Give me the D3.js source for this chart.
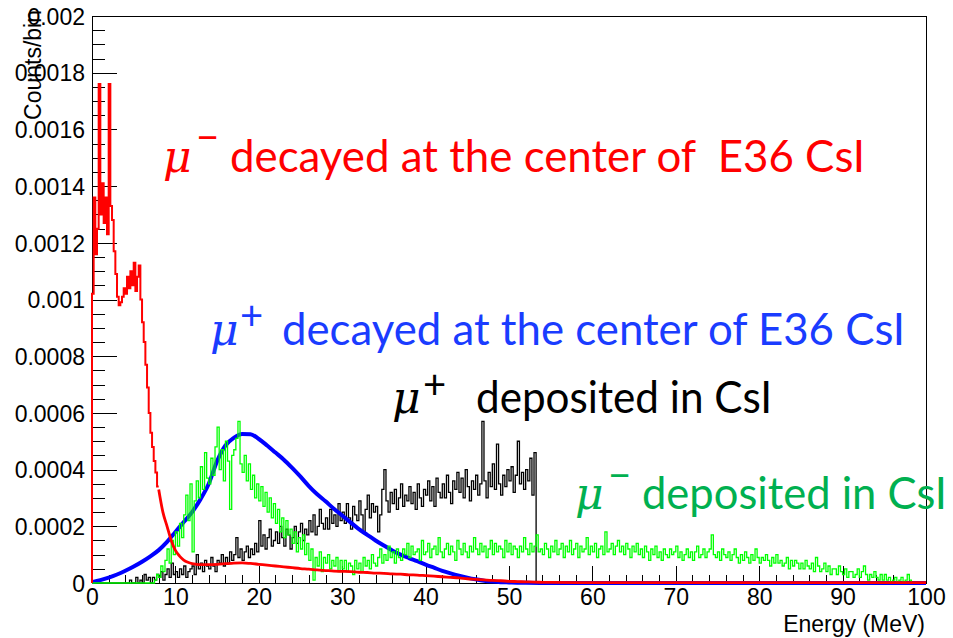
<!DOCTYPE html>
<html><head><meta charset="utf-8">
<script src="https://cdn.jsdelivr.net/npm/d3@7"></script>
<style>body{margin:0;background:#fff}svg{display:block}</style>
</head><body><svg id="c" width="953" height="638"></svg>
<script>
// ---- data (values in units of 1e-5 counts/bin) ----
const UNIT = 1e-5;
const xTicks = [0,10,20,30,40,50,60,70,80,90,100];
const xTickLabels = ["0","10","20","30","40","50","60","70","80","90","100"];
const yTicks = [0,0.0002,0.0004,0.0006,0.0008,0.001,0.0012,0.0014,0.0016,0.0018,0.002];
const yTickLabels = ["0","0.0002","0.0004","0.0006","0.0008","0.001","0.0012","0.0014","0.0016","0.0018","0.002"];

// mu- decayed at the center (red): fine bins 0-8 MeV, 0.2 MeV wide
const redLowStart = 0, redLowWidth = 0.2;
const redLow = [102,136,116,125,176,130,141,127,136,123,176,133,128,117,109,101,98,99,101,104,
                102,108,104,110,105,113,103,108,112,100,92,85,77,69,60,53,48,43,39,34];
// smooth tail of the red spectrum
const redTailE = [8,8.5,9,9.5,10,10.5,11,11.5,12,12.5,13,14,15,16,17,18,19,20,21,22,23,24,25,26,27,28,29,30,31,32,33,34,35,36,37,38,39,40,41,42,43,44,45,46,47,48,49,50,51,52,53,54,55,60,70,80,90,100];
const redTail  = [33,25,20,15,11.5,9.5,8.1,7.3,6.8,6.6,6.5,6.5,6.6,6.8,7.0,7.1,6.9,6.6,6.3,6.0,5.7,5.4,5.1,4.9,4.6,4.4,4.2,4.1,4.0,3.8,3.7,3.5,3.4,3.2,3.1,2.9,2.8,2.6,2.4,2.2,2.0,1.8,1.5,1.3,1.1,0.9,0.8,0.6,0.5,0.4,0.3,0.25,0.2,0.15,0.1,0.1,0.1,0.1];

// mu+ decayed at the center (blue)
const blueE = [0,1,2,3,4,5,6,7,8,9,10,11,12,13,14,15,16,17,18,19,20,21,22,23,24,25,26,27,28,29,30,31,32,33,34,35,36,37,38,39,40,41,42,43,44,45,46,47,48,49,50,51,52,55,60,100];
const blue  = [0.3,1.0,1.9,3.0,4.3,5.8,7.5,9.4,11.6,14.5,18,21.5,25,29.5,35,43,48.5,51.2,52.6,52.5,50.8,48.5,46,43.5,40.6,37.5,34.2,31.3,28.8,26.2,23.8,21.4,19,17,15,13.2,11.5,10,8.8,7.7,6.5,5.4,4.3,3.4,2.6,1.9,1.3,0.8,0.5,0.3,0.2,0.1,0.05,0.03,0,0];

// mu+ deposited in CsI (black): 0.25 MeV bins from 4 MeV
const blackStart = 4, blackWidth = 0.25;
const black = [0,0,1,0,0,2,0,1,0,3,1,2,0,2,1,3,
  2,4,1,3,5,2,7,3, 4,2,5,3,6,2,4,5, 6,3,10,5,7,4,8,6, 5,9,6,4,8,7,10,6,
  9,7,11,8,10,16,9,12, 8,11,13,9,12,10,14,11, 22,13,17,12,16,19,13,15, 18,14,20,16,13,19,17,12,
  16,20,14,18,21,15,19,17, 22,18,24,17,20,26,21,19, 23,19,26,21,24,20,28,22, 25,21,28,23,19,27,24,22,
  29,24,18,26,31,23,28,25, 27,18,24,33,40,29,25,32, 28,33,26,30,35,27,31,29, 34,28,32,26,35,30,27,33,
  31,36,29,34,27,37,32,30, 35,30,38,32,28,36,33,39, 32,37,30,40,34,29,36,33, 38,31,35,57,36,30,39,34,
  42,33,49,35,31,38,34,40, 36,41,32,38,50,35,39,33, 40,36,44,31,46];

// mu- deposited in CsI (green): 0.25 MeV bins from 7.5 MeV
const greenStart = 7.5, greenWidth = 0.25;
const green = [1,3,
  2,6,4,8, 12,7,15,10, 18,13,21,16, 24,31,22,35, 11,29,36,30, 41,33,46,37, 35,44,38,48, 55,40,47,36,
  50,43,26,45, 47,51,57,42, 39,45,36,42, 33,38,30,35, 29,34,27,32, 25,30,23,28, 21,26,18,23, 16,22,17,19,
  14,18,11,16, 12,17,10,14, 8,12,1,9, 6,11,4,9, 7,10,5,8, 6,9,4,8, 5,8,4,7, 6,3,8,5,
  7,4,9,6, 8,5,10,7, 6,9,12,7, 10,8,13,9, 11,7,12,9, 8,12,10,14, 9,13,10,11, 12,8,15,10,
  11,14,9,12, 13,10,16,11, 9,12,14,10, 13,11,8,15, 12,10,14,11, 9,13,11,16, 12,10,14,11, 13,9,12,15,
  10,14,11,13, 12,9,15,11, 14,10,13,12, 9,13,11,16, 12,10,14,11, 13,17,11,12, 10,14,12,9, 13,11,15,10,
  12,14,9,13, 11,15,10,12, 14,9,13,11, 12,16,10,13, 11,14,9,12, 13,10,18,11, 12,14,10,13, 15,11,13,10,
  14,12,9,13, 11,14,10,12, 9,13,11,8, 12,10,13,9, 11,8,12,10, 9,12,10,11, 13,9,11,8, 10,12,9,11,
  8,11,13,9, 10,12,9,11, 12,17,10,9, 11,8,12,10, 9,11,8,10, 12,9,7,10, 8,11,9,7, 10,8,12,9,
  7,9,8,10, 8,6,9,7, 10,7,8,6, 7,9,5,8, 6,8,7,5, 7,5,8,6, 5,7,4,9, 6,4,5,7,
  4,6,3,5, 5,3,6,4, 3,5,2,4, 4,2,3,5, 2,4,6,3, 1,3,2,4, 2,1,3,1, 3,1,2,0, 1,2,0,1, 2,0,1,3, 1,0];

// ---- chart ----
const svg = d3.select("#c");
const L = 92, R = 926, T = 16, B = 583;
const x = d3.scaleLinear().domain([0,100]).range([L,R]);
const y = d3.scaleLinear().domain([0,0.002]).range([B,T]);
const AX = "'Liberation Sans', Arial, Helvetica, sans-serif";

// frame
svg.append("rect").attr("x",L).attr("y",T).attr("width",R-L).attr("height",B-T)
  .attr("fill","none").attr("stroke","#000").attr("stroke-width",1).attr("shape-rendering","crispEdges");

// x axis
const xMinor = d3.range(0,101,2).filter(v=>v%10!==0);
const gx = svg.append("g").attr("transform",`translate(0,${B})`);
gx.call(d3.axisBottom(x).tickValues(xTicks).tickFormat((d,i)=>xTickLabels[i])
  .tickSizeInner(-17).tickSizeOuter(0).tickPadding(6));
const gxm = svg.append("g").attr("transform",`translate(0,${B})`);
gxm.call(d3.axisBottom(x).tickValues(xMinor).tickFormat("").tickSizeInner(-8.5).tickSizeOuter(0));
gxm.select(".domain").remove();

// y axis
const yMinor = d3.range(0,41).map(i=>i*0.00005).filter((v,i)=>i%4!==0);
const gy = svg.append("g").attr("transform",`translate(${L},0)`);
gy.call(d3.axisLeft(y).tickValues(yTicks).tickFormat((d,i)=>yTickLabels[i])
  .tickSizeInner(-25).tickSizeOuter(0).tickPadding(7));
const gym = svg.append("g").attr("transform",`translate(${L},0)`);
gym.call(d3.axisLeft(y).tickValues(yMinor).tickFormat("").tickSizeInner(-12.5).tickSizeOuter(0));
gym.select(".domain").remove();

svg.selectAll(".tick line, .domain").attr("stroke","#000").attr("stroke-width",1).attr("shape-rendering","crispEdges");
svg.selectAll(".tick text").attr("font-family",AX).attr("font-size",23).attr("fill","#000");
gy.selectAll(".tick text").attr("dy","0.36em");

// axis titles
svg.append("text").attr("x",925).attr("y",632).attr("text-anchor","end")
  .attr("font-family",AX).attr("font-size",23).text("Energy (MeV)");
svg.append("text").attr("transform","translate(41,10) rotate(-90)").attr("text-anchor","end")
  .attr("font-family",AX).attr("font-size",23).text("Counts/bin");

// histograms
function stepPoints(start, width, vals, lead){
  const pts = [];
  if (lead !== undefined) pts.push([lead,0]);
  pts.push([start,0]);
  vals.forEach((v,i)=>{ pts.push([start+i*width, v*UNIT]); pts.push([start+(i+1)*width, v*UNIT]); });
  pts.push([start+vals.length*width, 0]);
  return pts;
}
const lin = d3.line().x(d=>x(d[0])).y(d=>y(d[1]));
const smooth = d3.line().x(d=>x(d[0])).y(d=>y(d[1])).curve(d3.curveMonotoneX);
const plot = svg.append("g");

plot.append("path").attr("d", lin(stepPoints(blackStart, blackWidth, black, 0)))
  .attr("fill","none").attr("stroke","#000").attr("stroke-width",1.3);
plot.append("path").attr("d", smooth(blueE.map((e,i)=>[e, blue[i]*UNIT])))
  .attr("fill","none").attr("stroke","#0000ff").attr("stroke-width",4);
plot.append("path").attr("d", lin(stepPoints(greenStart, greenWidth, green, 0)))
  .attr("fill","none").attr("stroke","#00ff00").attr("stroke-width",1.3);
const redLowPts = stepPoints(redLowStart, redLowWidth, redLow); redLowPts.pop();
plot.append("path").attr("d", lin(redLowPts))
  .attr("fill","none").attr("stroke","#ff0000").attr("stroke-width",2);
plot.append("path").attr("d", smooth(redTailE.map((e,i)=>[e, redTail[i]*UNIT])))
  .attr("fill","none").attr("stroke","#ff0000").attr("stroke-width",2.8);

// annotations: mu with superscript charge in one text element, then the phrase
const TF = "Lato, 'Open Sans', sans-serif";
const MF = "'DejaVu Serif', 'Liberation Serif', serif";
const notes = [
  {mu:163, sup:"\u2212", supX:196, supY:151, tx:230, tEnd:865, base:172, color:"#ff0000", text:"decayed at the center of  E36 CsI"},
  {mu:210, sup:"+", supX:240, supY:330, tx:282, tEnd:905, base:345, color:"#1a3cff", text:"decayed at the center of E36 CsI"},
  {mu:392, sup:"+", supX:423, supY:399, tx:476, tEnd:772, base:413, color:"#000000", text:"deposited in CsI"},
  {mu:575, sup:"\u2212", supX:608, supY:489, tx:642, tEnd:947, base:509, color:"#00b050", text:"deposited in CsI"}
];
notes.forEach(n=>{
  const t = svg.append("text").attr("x",n.mu).attr("y",n.base).attr("fill",n.color);
  t.append("tspan").attr("font-family",MF).attr("font-style","italic").attr("font-size",44).text("\u03bc");
  t.append("tspan").attr("x",n.supX).attr("y",n.supY).attr("font-family",TF).attr("font-size",40).text(n.sup);
  svg.append("text").attr("x",n.tx).attr("y",n.base).attr("font-family",TF).attr("font-size",44)
    .attr("fill",n.color).attr("textLength",n.tEnd-n.tx).attr("lengthAdjust","spacingAndGlyphs")
    .style("white-space","pre").text(n.text);
});
</script></body></html>
